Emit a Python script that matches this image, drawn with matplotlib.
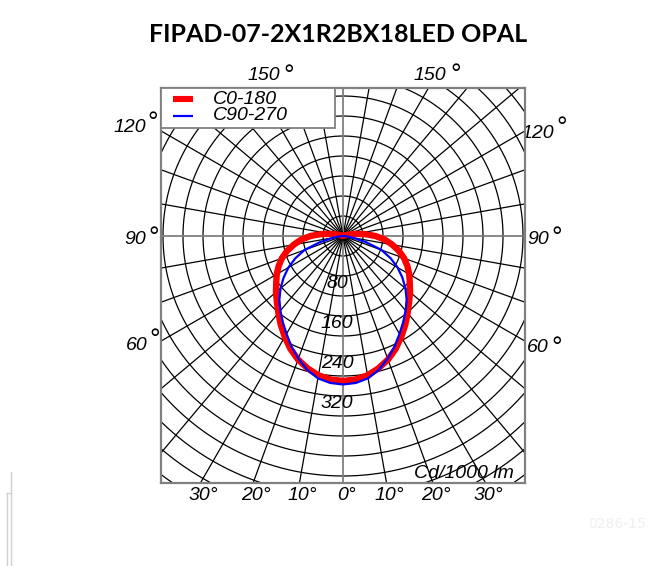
import numpy as np
import matplotlib
matplotlib.use("Agg")
import matplotlib.pyplot as plt
from matplotlib.patches import Rectangle

# luminous intensity, cd/1000 lm, gamma from nadir (symmetric halves)
gamma = [0, 5, 10, 15, 20, 25, 30, 35, 40, 45, 50, 55, 60, 65, 70, 75, 80, 85, 90, 95, 100, 105, 110, 115]
c0_180 = [290, 288, 283, 274, 263, 249, 233, 217, 201, 187, 175, 163, 153, 142, 130, 116, 100, 84, 65, 44, 24, 10, 3, 0]
c90_270 = [297, 295, 289, 277, 261, 244, 226, 210, 195, 180, 163, 145, 126, 105, 82, 48, 20, 6, 0, 0, 0, 0, 0, 0]

ring_labels = [80, 160, 240, 320]
bottom_angles = [30, 20, 10, 0, 10, 20, 30]
title = "FIPAD-07-2X1R2BX18LED OPAL"

W, H = 659, 566
CX, CY = 343, 236          # centre of diagram in pixels
K = 0.5                    # pixels per cd
LBL = ['Liberation Sans', 'DejaVu Sans']
GREY = '#808080'

fig = plt.figure(figsize=(W / 100, H / 100), dpi=100)
bg = fig.add_axes([0, 0, 1, 1])
bg.set_xlim(0, W)
bg.set_ylim(H, 0)
bg.axis('off')

left, right, top, bottom = 161, 525, 88, 483
ax = fig.add_axes([left / W, (H - bottom) / H, (right - left) / W, (bottom - top) / H])
ax.set_xlim((left - CX) / K, (right - CX) / K)
ax.set_ylim((CY - bottom) / K, (CY - top) / K)
ax.set_xticks([])
ax.set_yticks([])
for s in ax.spines.values():
    s.set_color(GREY)
    s.set_linewidth(1.6)


def d2(px, py):
    return (px - CX) / K, (CY - py) / K


# grid
t = np.linspace(0, 2 * np.pi, 400)
for r in range(40, 640, 40):
    ax.plot(r * np.cos(t), r * np.sin(t), color='black', lw=0.9, zorder=1)
for a in range(0, 360, 10):
    g = np.radians(a)
    col, lw = ('black', 0.9)
    if a % 90 == 0:
        col, lw = (GREY, 1.3)
    ax.plot([0, 800 * np.sin(g)], [0, -800 * np.cos(g)], color=col, lw=lw, zorder=1)

# curves
gr = np.radians(np.array(gamma))
for vals, col, lw in [(c0_180, 'red', 4.6), (c90_270, 'blue', 1.6)]:
    v = np.array(vals, dtype=float)
    xs = np.concatenate([-(v * np.sin(gr))[::-1], v * np.sin(gr)])
    ys = np.concatenate([-(v * np.cos(gr))[::-1], -v * np.cos(gr)])
    ax.plot(xs, ys, color=col, lw=lw, solid_joinstyle='round', solid_capstyle='round', zorder=3)

# ring values
for v in ring_labels:
    x, y = d2(337, CY + v * K + 8)
    ax.text(x, y, str(v), ha='center', va='center', fontsize=14, style='italic',
            family=LBL, zorder=4)

# legend
lx0, ly0 = d2(161, 128)
lx1, ly1 = d2(335, 88)
ax.add_patch(Rectangle((lx0, ly0), lx1 - lx0, ly1 - ly0, facecolor='white',
                       edgecolor=GREY, lw=1.3, zorder=5))
for py, col, lw, lab in [(99, 'red', 4.4, 'C0-180'), (116, 'blue', 1.6, 'C90-270')]:
    xa, ya = d2(173, py)
    xb, _ = d2(193, py)
    ax.plot([xa, xb], [ya, ya], color=col, lw=lw, solid_capstyle='butt', zorder=6)
    xt, yt = d2(213, py)
    ax.text(xt, yt, lab, ha='left', va='center', fontsize=14, style='italic',
            family=LBL, zorder=6)

xt, yt = d2(514, 474)
ax.text(xt, yt, "Cd/1000 lm", ha='right', va='center', fontsize=14, style='italic',
        family=LBL, zorder=4)

# angle labels outside the box
side = [("150", 264, 76, 289, 67), ("150", 430, 76, 456, 66),
        ("120", 130, 128, 153, 114), ("120", 538, 133, 562, 119),
        ("90", 135, 240, 154, 229), ("90", 538, 240, 557, 229),
        ("60", 137, 346, 155, 331), ("60", 538, 348, 557, 339)]
for txt, x, y, dx, dy in side:
    bg.text(x, y, txt, ha='center', va='center', fontsize=14, style='italic', family=LBL)
    bg.text(dx, dy + 9, "°", ha='center', va='center', fontsize=19, family=LBL)

for i, a in enumerate(bottom_angles):
    sgn = -1 if i < 3 else 1
    bx = CX + sgn * 247 * np.tan(np.radians(a))
    bg.text(bx + 3, 496, f"{a}°", ha='center', va='center', fontsize=14,
            style='italic', family=LBL)

bg.text(338, 35, title, ha='center', va='center', fontsize=18, fontweight='bold',
        family=['Lato', 'DejaVu Sans'])

# faint page remnants
bg.plot([10.5, 10.5], [472, 566], color='#d0d0d0', lw=1)
bg.plot([7, 7], [493, 566], color='#d0d0d0', lw=1)
bg.plot([7, 10.5], [493, 493], color='#d0d0d0', lw=1)
bg.text(617, 524, "0286-15", ha='center', va='center', fontsize=10, color='#efefef')

fig.savefig("out.png", dpi=100)
